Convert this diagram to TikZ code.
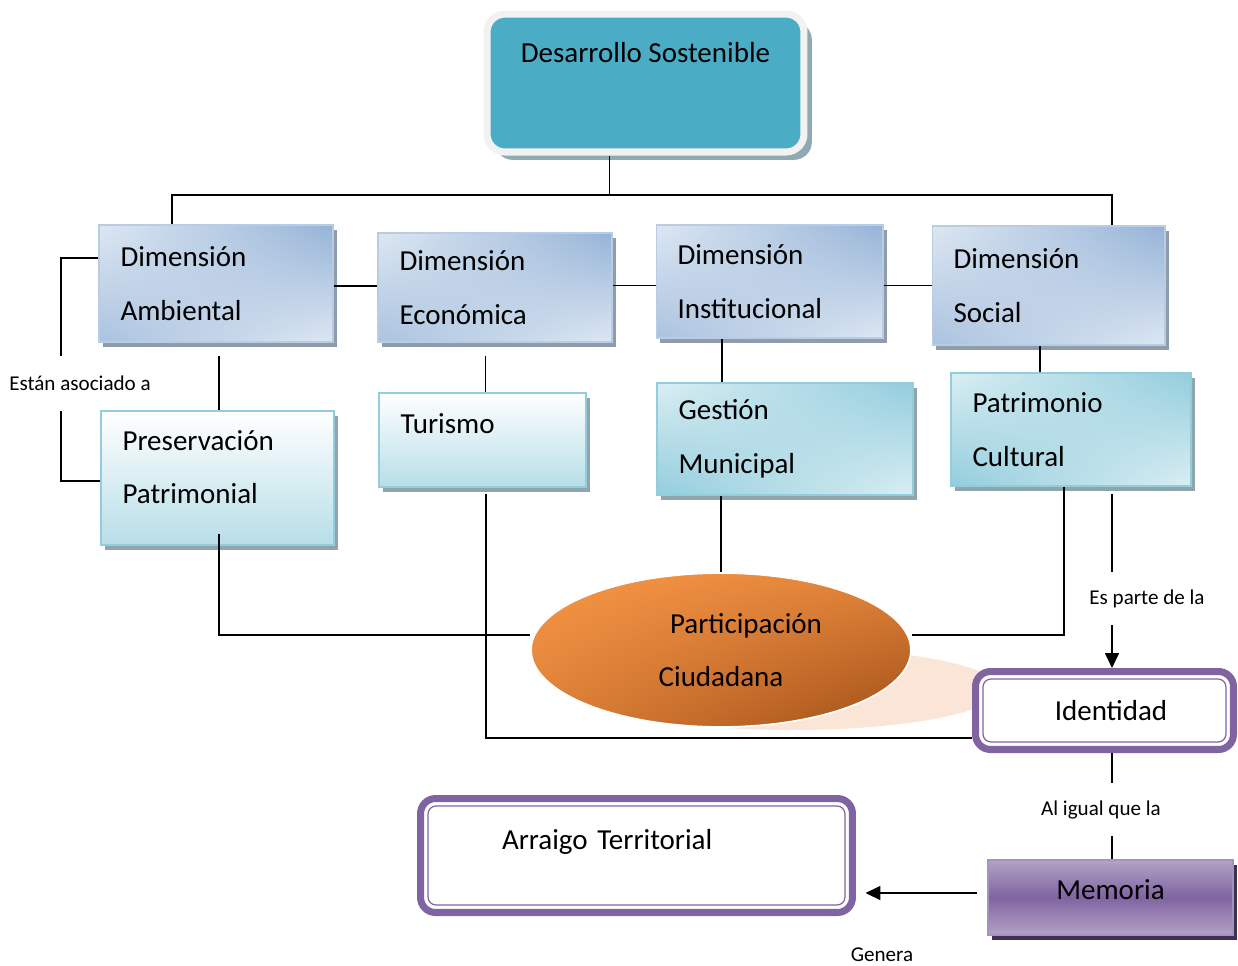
\documentclass[tikz,border=0pt]{standalone}
\usepackage{fontspec}
\setmainfont{Carlito}
\usetikzlibrary{shapes.geometric,shadows,shadings,arrows.meta}
\definecolor{tealfill}{HTML}{4BACC6}
\definecolor{tealframe}{HTML}{F2F2F2}
\definecolor{tealshadow}{HTML}{8FAAB3}
\definecolor{dimdark}{HTML}{95B3D7}
\definecolor{dimlight}{HTML}{DDE7F2}
\definecolor{dimline}{HTML}{B8CCE4}
\definecolor{dimshadow}{HTML}{8E9CAC}
\definecolor{aqualight}{HTML}{DAEEF3}
\definecolor{aquadark}{HTML}{93CDDD}
\definecolor{aquabottom}{HTML}{B7DEE8}
\definecolor{aqualine}{HTML}{92CDDC}
\definecolor{aquashadow}{HTML}{8FA5AB}
\definecolor{orangelight}{HTML}{F79646}
\definecolor{orangedark}{HTML}{A04E17}
\definecolor{peach}{HTML}{FBE5D6}
\definecolor{purp}{HTML}{8064A2}
\definecolor{purplight}{HTML}{B3A2C7}
\definecolor{purpshadow}{HTML}{403152}
\begin{document}
\begin{tikzpicture}[x=0.02cm, y=-0.02cm,%
every node/.style={font=\fontsize{16.5}{30.5}\selectfont},
conn/.style={line width=1pt},
tag/.style={font=\fontsize{12}{14}\selectfont, inner sep=0pt},
dimbox/.style={rectangle, draw=dimline, line width=0.6pt, inner xsep=0.43cm,
  align=left, upper left=dimlight, upper right=dimdark,
  lower left=dimdark!70!dimlight, lower right=dimlight,
  drop shadow={shadow xshift=2.3pt, shadow yshift=-2.6pt, fill=dimshadow, opacity=1}},
aquabase/.style={rectangle, draw=aqualine, line width=0.8pt, inner xsep=0.43cm,
  align=left,
  drop shadow={shadow xshift=2.3pt, shadow yshift=-2.6pt, fill=aquashadow, opacity=1}},
aquabox/.style={aquabase, top color=white, bottom color=aquabottom},
aquadiag/.style={aquabase, upper left=aqualight, upper right=aquadark,
  lower left=aquadark, lower right=aqualight},
framebox/.style={rectangle, draw=purp, line width=4pt, fill=white,
  rounded corners=0.3cm}]
\useasboundingbox (0,0) rectangle (1238,965);
\fill[peach] (792,689) ellipse [x radius=4.16cm, y radius=0.82cm];
\node (desarrollo) at (645.5,83) [rectangle, fill=tealfill, draw=tealframe,
  line width=4pt, rounded corners=0.36cm, minimum width=6.34cm, inner sep=0pt,
  text height=0.96cm, text depth=1.8cm,
  drop shadow={shadow xshift=4.5pt, shadow yshift=-4.5pt, fill=tealshadow, opacity=1}]
  {Desarrollo Sostenible};
\node (ambiental) at (216,283.5) [dimbox, text width=3.82cm, minimum height=2.34cm]
  {Dimensión\\Ambiental};
\node (economica) at (495,287.5) [dimbox, text width=3.82cm, minimum height=2.18cm]
  {Dimensión\\Económica};
\node (institucional) at (769.5,281.5) [dimbox, text width=3.68cm, minimum height=2.26cm]
  {Dimensión\\Institucional};
\node (social) at (1048.5,285.5) [dimbox, text width=3.80cm, minimum height=2.38cm]
  {Dimensión\\Social};
\node (preservacion) at (217.5,478) [aquabox, text width=3.80cm, inner ysep=0pt,
  text height=0.78cm, text depth=1.9cm] {Preservación\\Patrimonial};
\node (turismo) at (482.5,440) [aquabox, text width=3.28cm, inner ysep=0pt,
  text height=0.81cm, text depth=1.07cm] {Turismo};
\node (gestion) at (785,439) [aquadiag, text width=4.26cm, minimum height=2.24cm]
  {Gestión\\Municipal};
\node (patrimonio) at (1071,429.5) [aquadiag, text width=3.94cm, minimum height=2.26cm]
  {Patrimonio\\Cultural};
\node (participacion) at (721,650) [ellipse, minimum width=7.6cm, minimum height=3.08cm,
  draw=white, line width=1pt, inner sep=0pt, align=center,
  upper left=orangelight, upper right=orangelight!75!orangedark,
  lower left=orangelight!70!orangedark, lower right=orangedark]
  {\hspace*{1cm}Participación\\Ciudadana};
\node (identidad) at (1104.5,710.5) [framebox, minimum width=5.16cm, minimum height=1.56cm]
  {\hspace*{0.26cm}Identidad};
\draw[purp, line width=0.7pt, rounded corners=0.16cm]
  ([shift={(0.22cm,-0.22cm)}]identidad.north west) rectangle
  ([shift={(-0.22cm,0.22cm)}]identidad.south east);
\node (memoria) at (1110.5,897.5) [rectangle, draw=purp!70!white, line width=0.8pt,
  minimum width=4.9cm, inner ysep=0pt, text height=0.79cm, text depth=0.71cm,
  top color=purplight, bottom color=purplight, middle color=purp,
  drop shadow={shadow xshift=2.5pt, shadow yshift=-3pt, fill=purpshadow, opacity=1}]
  {Memoria};
\node (arraigo) at (636.5,855.5) [framebox, minimum width=8.64cm, inner xsep=1.63cm,
  inner ysep=0pt, text width=5.38cm, align=left, text height=1.02cm, text depth=1.26cm]
  {Arraigo Territorial};
\draw[purp, line width=0.7pt, rounded corners=0.16cm]
  ([shift={(0.22cm,-0.22cm)}]arraigo.north west) rectangle
  ([shift={(-0.22cm,0.22cm)}]arraigo.south east);
\node (asociado) at (80,383.5) [tag, minimum height=1.1cm] {Están asociado a};
\node (esparte) at (1147,598.5) [tag, minimum height=1.06cm] {Es parte de la};
\node (igual) at (1101,809.5) [tag, minimum height=1.06cm] {Al igual que la};
\node (genera) at (882,955) [tag] {Genera};
\coordinate (busL) at (172,195);
\coordinate (busR) at (1112,195);
\coordinate (brkT) at (61,258);
\coordinate (brkB) at (61,481);
\draw[conn] ([xshift=-0.72cm]desarrollo.south) -- ([xshift=-0.72cm]desarrollo.south |- busL);
\draw[conn] (busL |- ambiental.north) -- (busL) -- (busR) -- (busR |- social.north);
\draw[conn] ([yshift=-0.05cm]ambiental.east) -- ([yshift=-0.05cm]ambiental.east -| economica.west);
\draw[conn] (economica.east |- social.west) -- (institucional.west |- social.west);
\draw[conn] (institucional.east |- social.west) -- (social.west);
\draw[conn] (brkT -| ambiental.west) -- (brkT) -- (brkT |- asociado.north);
\draw[conn] (brkB |- asociado.south) -- (brkB) -- (brkB -| preservacion.west);
\draw[conn, shorten <=0.26cm] ([xshift=0.06cm]ambiental.south) -- ([xshift=0.06cm]ambiental.south |- preservacion.north);
\draw[conn, shorten <=0.26cm] ([xshift=0.06cm]turismo.north |- economica.south) -- ([xshift=0.06cm]turismo.north);
\draw[conn] ([xshift=1.32cm]gestion.north west) -- ([xshift=1.32cm]gestion.north west |- institucional.south);
\draw[conn] ([xshift=1.8cm]patrimonio.north west) -- ([xshift=1.8cm]patrimonio.north west |- social.south);
\draw[conn, shorten <=-0.24cm] ([xshift=0.03cm]preservacion.south) |- ([yshift=0.3cm]participacion.west);
\draw[conn, shorten <=0.12cm] ([xshift=0.07cm]turismo.south) |- ([yshift=-0.55cm]identidad.west);
\draw[conn] (participacion.north |- gestion.south) -- (participacion.north);
\draw[conn] ([xshift=-0.14cm]patrimonio.south) |- ([yshift=0.3cm]participacion.east);
\draw[conn, shorten <=0.14cm] (busR |- patrimonio.south) -- (busR |- esparte.north);
\draw[conn, -{Triangle[length=0.3cm, width=0.28cm]}] (busR |- esparte.south) -- (busR |- identidad.north);
\draw[conn] (busR |- identidad.south) -- (busR |- igual.north);
\draw[conn] (busR |- igual.south) -- (busR |- memoria.north);
\draw[conn, -{Triangle[length=0.3cm, width=0.28cm]}, shorten <=0.2cm, shorten >=0.19cm]
  ([yshift=0.09cm]memoria.west) -- ([yshift=0.09cm]memoria.west -| arraigo.east);
\end{tikzpicture}
\end{document}
